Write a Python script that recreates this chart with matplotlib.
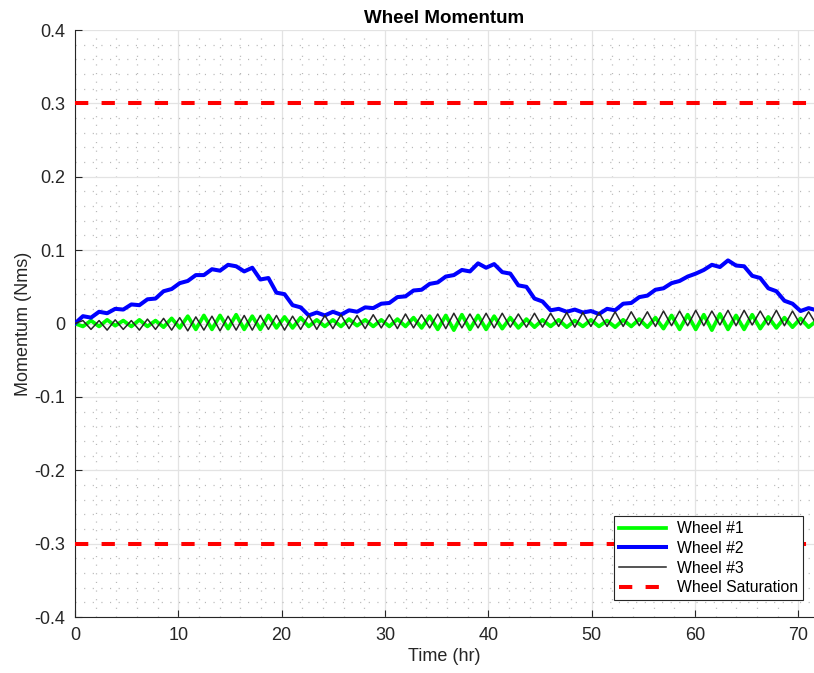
import numpy as np
import matplotlib
matplotlib.use("Agg")
import matplotlib.pyplot as plt
from matplotlib.ticker import MultipleLocator

plt.rcParams['font.family'] = ['Liberation Sans', 'DejaVu Sans']

# sample times (hr), half an orbit apart
time_hr = np.arange(93) * 0.78

wheel1 = [0.000, -0.004, 0.004, -0.004, 0.005, -0.003, 0.004, -0.004, 0.005, -0.004,
          0.004, -0.005, 0.007, -0.006, 0.010, -0.008, 0.011, -0.008, 0.011, -0.007,
          0.012, -0.008, 0.010, -0.008, 0.011, -0.006, 0.009, -0.006, 0.008, -0.004,
          0.005, -0.004, 0.005, -0.004, 0.006, -0.003, 0.005, -0.004, 0.005, -0.004,
          0.006, -0.004, 0.008, -0.006, 0.010, -0.008, 0.011, -0.009, 0.012, -0.008,
          0.011, -0.008, 0.010, -0.007, 0.008, -0.006, 0.006, -0.005, 0.005, -0.004,
          0.005, -0.005, 0.004, -0.004, 0.005, -0.004, 0.004, -0.005, 0.005, -0.004,
          0.006, -0.005, 0.008, -0.007, 0.011, -0.008, 0.012, -0.008, 0.012, -0.009,
          0.013, -0.008, 0.011, -0.008, 0.012, -0.007, 0.009, -0.006, 0.008, -0.005,
          0.007, -0.005, 0.004]

wheel2 = [0.000, 0.010, 0.008, 0.016, 0.014, 0.020, 0.019, 0.026, 0.025, 0.033,
          0.034, 0.044, 0.047, 0.055, 0.058, 0.066, 0.066, 0.074, 0.072, 0.080,
          0.078, 0.071, 0.076, 0.060, 0.062, 0.042, 0.040, 0.025, 0.022, 0.011,
          0.015, 0.011, 0.016, 0.012, 0.018, 0.016, 0.022, 0.021, 0.027, 0.028,
          0.036, 0.037, 0.045, 0.046, 0.054, 0.056, 0.064, 0.066, 0.073, 0.071,
          0.082, 0.076, 0.081, 0.070, 0.068, 0.052, 0.050, 0.034, 0.030, 0.018,
          0.020, 0.016, 0.019, 0.015, 0.017, 0.013, 0.020, 0.018, 0.027, 0.028,
          0.036, 0.038, 0.046, 0.048, 0.055, 0.058, 0.064, 0.068, 0.073, 0.080,
          0.077, 0.086, 0.079, 0.078, 0.065, 0.062, 0.048, 0.044, 0.031, 0.027,
          0.017, 0.021, 0.018]

wheel3 = [0.000, 0.004, -0.008, 0.004, -0.009, 0.005, -0.008, 0.004, -0.009, 0.006,
          -0.008, 0.007, -0.009, 0.008, -0.010, 0.009, -0.009, 0.010, -0.010, 0.010,
          -0.009, 0.011, -0.009, 0.011, -0.008, 0.011, -0.009, 0.010, -0.008, 0.011,
          -0.008, 0.011, -0.007, 0.012, -0.007, 0.011, -0.007, 0.012, -0.006, 0.012,
          -0.007, 0.013, -0.006, 0.012, -0.006, 0.013, -0.007, 0.014, -0.006, 0.013,
          -0.006, 0.014, -0.006, 0.014, -0.005, 0.013, -0.005, 0.014, -0.005, 0.014,
          -0.004, 0.015, -0.005, 0.015, -0.004, 0.015, -0.004, 0.016, -0.004, 0.016,
          -0.003, 0.016, -0.004, 0.017, -0.003, 0.017, -0.003, 0.018, -0.003, 0.017,
          -0.002, 0.018, -0.003, 0.018, -0.002, 0.017, -0.002, 0.018, -0.003, 0.017,
          -0.002, 0.016, -0.002]

saturation = [0.3, -0.3]

fig = plt.figure(figsize=(8.14, 6.73), dpi=100)
ax = fig.add_axes([0.092, 0.0832, 0.908, 0.8722])

ax.plot(time_hr, wheel1, color='#00ff00', lw=2.7, label='Wheel #1', zorder=3,
        solid_joinstyle='round')
ax.plot(time_hr, wheel2, color='#0000ff', lw=2.9, label='Wheel #2', zorder=4,
        solid_joinstyle='round')
ax.plot(time_hr, wheel3, color='#262626', lw=1.1, label='Wheel #3', zorder=5)
for i, s in enumerate(saturation):
    ax.axhline(s, color='#ff0000', lw=2.9, dashes=(3.3, 3.3),
               label='Wheel Saturation' if i == 0 else None, zorder=3)

ax.set_xlim(0, 71.5)
ax.set_ylim(-0.4, 0.4)
ax.xaxis.set_major_locator(MultipleLocator(10))
ax.xaxis.set_minor_locator(MultipleLocator(2))
ax.yaxis.set_major_locator(MultipleLocator(0.1))
ax.yaxis.set_minor_locator(MultipleLocator(0.02))
ax.set_yticks(np.arange(-0.4, 0.41, 0.1))
ax.set_yticklabels(['-0.4', '-0.3', '-0.2', '-0.1', '0', '0.1', '0.2', '0.3', '0.4'])

ax.grid(which='major', color='#e3e3e3', lw=0.9, zorder=0)
ax.grid(which='minor', color='#b8b8b8', lw=0.9, ls=(0, (0.9, 6)), zorder=0)
ax.set_axisbelow(True)

ax.tick_params(which='major', direction='in', length=5, width=0.8,
               colors='#262626', labelsize=13, pad=7)
ax.tick_params(which='minor', length=0)
for side in ['top', 'right']:
    ax.spines[side].set_visible(False)
for side in ['left', 'bottom']:
    ax.spines[side].set_color('#262626')
    ax.spines[side].set_linewidth(0.8)

ax.set_title('Wheel Momentum', fontsize=13.5, fontweight='bold', pad=5)
ax.set_xlabel('Time (hr)', fontsize=13, color='#262626', labelpad=3)
ax.set_ylabel('Momentum (Nms)', fontsize=13, color='#262626', labelpad=2)

leg = ax.legend(loc='lower right', bbox_to_anchor=(0.985, 0.029), borderaxespad=0,
                fontsize=11.3, handlelength=3.0, labelspacing=0.3, fancybox=False,
                framealpha=1, edgecolor='#262626', borderpad=0.3, handletextpad=0.7)
leg.get_frame().set_linewidth(0.8)

fig.savefig('out.png', dpi=100)
